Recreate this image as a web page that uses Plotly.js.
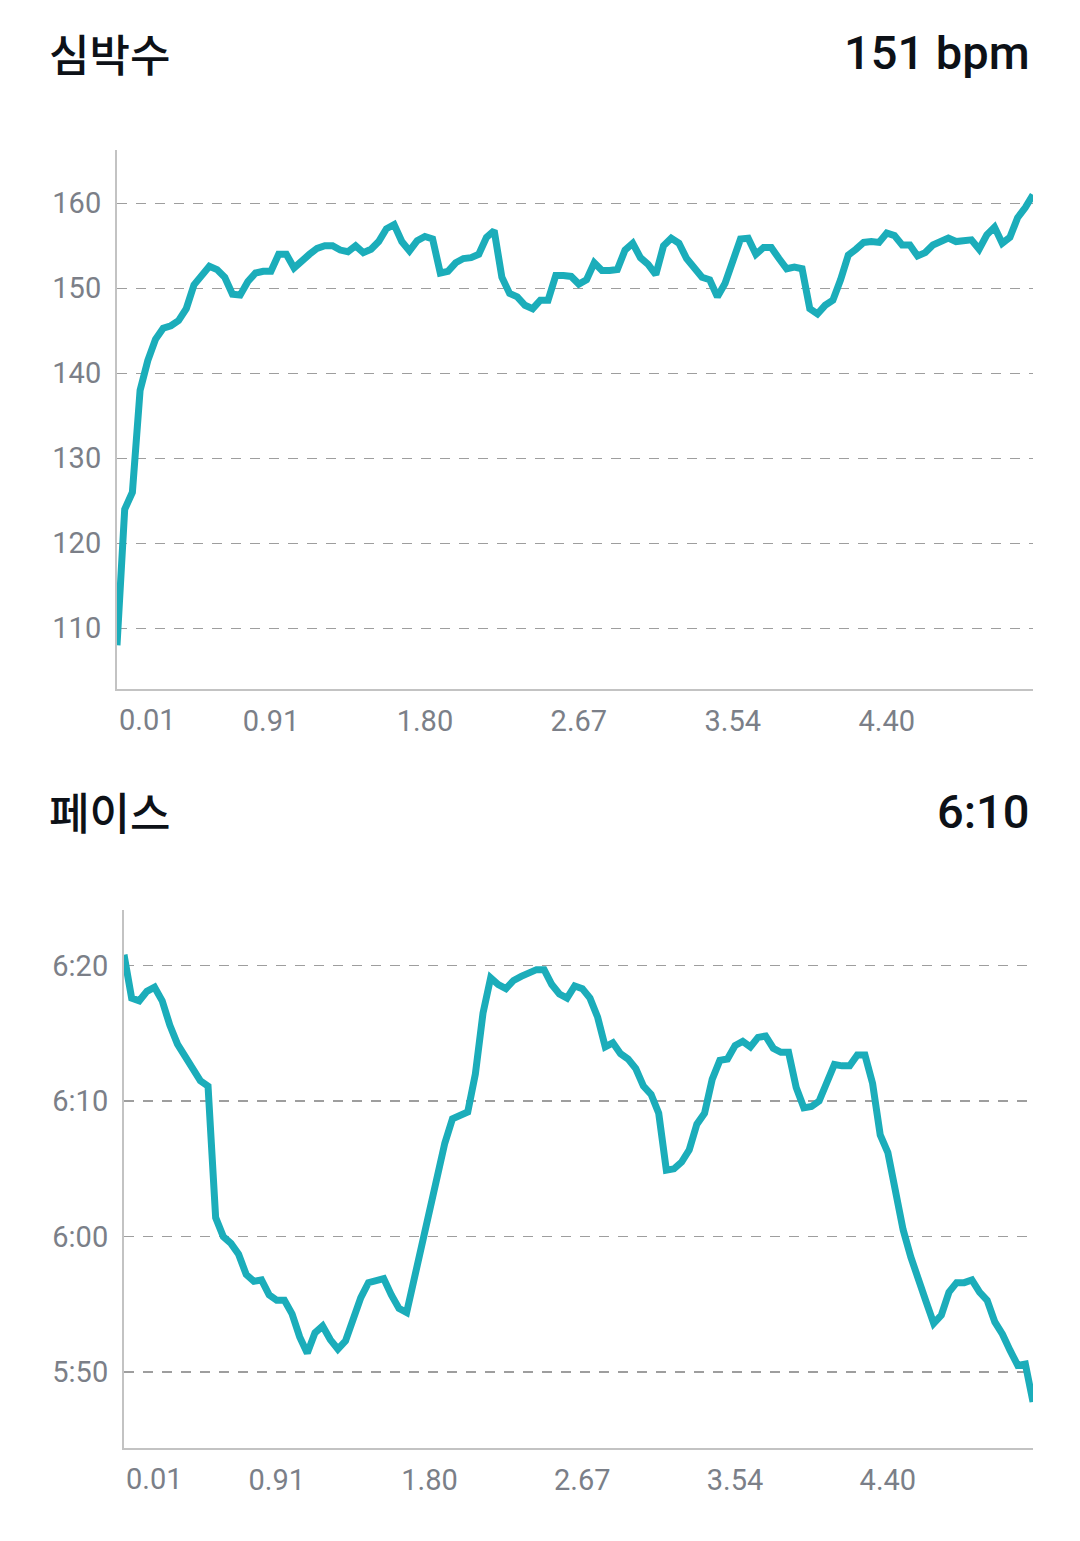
<!DOCTYPE html>
<html>
<head>
<meta charset="utf-8">
<script src="https://cdn.plot.ly/plotly-3.0.1.min.js"></script>
<style>
  html, body { margin: 0; padding: 0; background: #fff; }
  #chart { width: 1080px; height: 1541px; }
</style>
</head>
<body>
<div id="chart"></div>
<script>
// samples every 15 s over the run
var sampleStep = 15;

// heart rate (bpm)
var heartRate = [
  108, 124, 126, 138, 141.5, 144, 145.3, 145.6, 146.2, 147.6,
  150.4, 151.4, 152.6, 152.2, 151.3, 149.3, 149.2, 150.8, 151.8, 152,
  152, 154, 154, 152.4, 153.3, 154, 154.7, 155, 155, 154.5,
  154.3, 155, 154.2, 154.6, 155.5, 157, 157.5, 155.5, 154.4, 155.6,
  156.1, 155.8, 151.8, 152, 153, 153.5, 153.6, 154, 156, 156.8,
  151.3, 149.4, 149, 148, 147.6, 148.6, 148.6, 151.5, 151.5, 151.4,
  150.5, 151, 153, 152.1, 152.1, 152.2, 154.5, 155.3, 153.6, 152.8,
  151.6, 155, 155.9, 155.3, 153.5, 152.5, 151.3, 151, 149, 150.6,
  153, 155.8, 155.9, 154, 154.8, 154.8, 153.5, 152.3, 152.5, 152.3,
  147.6, 147, 148, 148.6, 151, 153.9, 154.6, 155.4, 155.5, 155.4,
  156.5, 156.2, 155.1, 155.1, 153.8, 154.2, 155.1, 155.5, 155.9, 155.5,
  155.7, 155.7, 154.6, 156.3, 157.2, 155.3, 156, 158.3, 159.5, 161
];

// pace (seconds per km)
var pace = [
  380.8, 377.6, 377.4, 378.1, 378.4, 377.4, 375.6, 374.2, 373.3, 372.5,
  371.5, 371.1, 361.4, 360.0, 359.5, 358.7, 357.2, 356.7, 356.8, 355.7,
  355.3, 355.3, 354.3, 352.6, 351.4, 352.9, 353.4, 352.4, 351.7, 352.3,
  354.1, 355.5, 356.6, 356.8, 356.9, 355.7, 354.7, 354.4, 357.0, 359.7,
  361.9, 364.8, 366.9, 368.7, 369.0, 369.2, 372.0, 376.5, 379.1, 378.6,
  378.3, 378.9, 379.2, 379.4, 379.7, 379.7, 378.6, 377.9, 377.6, 378.5,
  378.3, 377.6, 376.2, 374.0, 374.3, 373.5, 373.1, 372.4, 371.1, 370.5,
  369.1, 364.9, 365.0, 365.5, 366.4, 368.3, 369.1, 371.6, 373.0, 373.1,
  374.1, 374.4, 374.0, 374.7, 374.8, 373.9, 373.6, 373.6, 371.0, 369.5,
  369.6, 370.0, 371.4, 372.7, 372.6, 372.6, 373.4, 373.4, 371.3, 367.5,
  366.2, 363.5, 360.5, 358.5, 356.7, 355.2, 353.6, 354.2, 355.9, 356.6,
  356.6, 356.8, 355.9, 355.3, 353.7, 352.8, 351.6, 350.5, 350.6, 347.8
];

// x axis: elapsed seconds at each label, distance (km) shown
var tickTimes = [0, 300, 600, 900, 1200, 1500];
var tickKm = ['0.01', '0.91', '1.80', '2.67', '3.54', '4.40'];

var hrTicks = [110, 120, 130, 140, 150, 160];
var paceTicks = [350, 360, 370, 380];

var hrTitle = '심박수', hrValue = '151 bpm';
var paceTitle = '페이스', paceValue = '6:10';

var times = heartRate.map(function (v, i) { return i * sampleStep; });
var maxTime = times[times.length - 1];

function mmss(s) {
  var m = Math.floor(s / 60), r = Math.round(s % 60);
  return m + ':' + (r < 10 ? '0' : '') + r;
}

var W = 1080, H = 1541;
function px(x) { return x / W; }
function py(y) { return 1 - y / H; }

var teal = '#1badba';
var tickFont = { family: 'Roboto, sans-serif', size: 29, color: '#7b7f88' };
var titleFont = { family: '"Noto Sans CJK KR", sans-serif', size: 44, color: '#0d1117', weight: 500 };
var valueFont = { family: 'Roboto, sans-serif', size: 47, color: '#0d1117', weight: 500 };

var data = [
  { x: times, y: heartRate, xaxis: 'x', yaxis: 'y', type: 'scatter', mode: 'lines',
    line: { color: teal, width: 7 } },
  { x: times, y: pace, xaxis: 'x2', yaxis: 'y2', type: 'scatter', mode: 'lines',
    line: { color: teal, width: 7 } }
];

function xAxis(dom, anchor) {
  return {
    domain: dom, anchor: anchor, range: [0, maxTime],
    showgrid: false, zeroline: false,
    showline: true, linecolor: '#c3c3c3', linewidth: 2,
    tickmode: 'array', tickvals: tickTimes.slice(1), ticktext: tickKm.slice(1),
    ticks: '', tickfont: tickFont, ticklabelstandoff: 5
  };
}
function yAxis(dom, anchor, range, vals, texts) {
  return {
    domain: dom, anchor: anchor, range: range,
    showgrid: true, gridcolor: '#9e9e9e', gridwidth: 1.5, griddash: '10px,9px',
    zeroline: false, showline: true, linecolor: '#c3c3c3', linewidth: 2,
    tickmode: 'array', tickvals: vals, ticktext: texts,
    ticks: '', tickfont: tickFont, ticklabelstandoff: 8
  };
}

var layout = {
  width: W, height: H,
  margin: { l: 0, r: 0, t: 0, b: 0 },
  paper_bgcolor: '#fff', plot_bgcolor: '#fff',
  showlegend: false,
  xaxis: xAxis([px(117), px(1033)], 'y'),
  yaxis: yAxis([py(689), py(150)], 'x', [102.86, 166.27], hrTicks, hrTicks.map(String)),
  xaxis2: xAxis([px(124), px(1033)], 'y2'),
  yaxis2: yAxis([py(1448), py(910)], 'x2', [344.4, 384.1], paceTicks, paceTicks.map(mmss)),
  annotations: [
    { text: hrTitle, xref: 'paper', yref: 'paper', x: px(47), y: py(53), xanchor: 'left', yanchor: 'middle', showarrow: false, font: titleFont },
    { text: hrValue, xref: 'paper', yref: 'paper', x: px(1032), y: py(53), xanchor: 'right', yanchor: 'middle', showarrow: false, font: valueFont },
    { text: paceTitle, xref: 'paper', yref: 'paper', x: px(47), y: py(811), xanchor: 'left', yanchor: 'middle', showarrow: false, font: titleFont },
    { text: paceValue, xref: 'paper', yref: 'paper', x: px(1032), y: py(811), xanchor: 'right', yanchor: 'middle', showarrow: false, font: valueFont },
    { text: tickKm[0], xref: 'x', yref: 'paper', x: tickTimes[0], y: py(720), xanchor: 'left', yanchor: 'middle', showarrow: false, font: tickFont },
    { text: tickKm[0], xref: 'x2', yref: 'paper', x: tickTimes[0], y: py(1479), xanchor: 'left', yanchor: 'middle', showarrow: false, font: tickFont }
  ]
};

Plotly.newPlot('chart', data, layout, { staticPlot: true, displayModeBar: false });
</script>
</body>
</html>
